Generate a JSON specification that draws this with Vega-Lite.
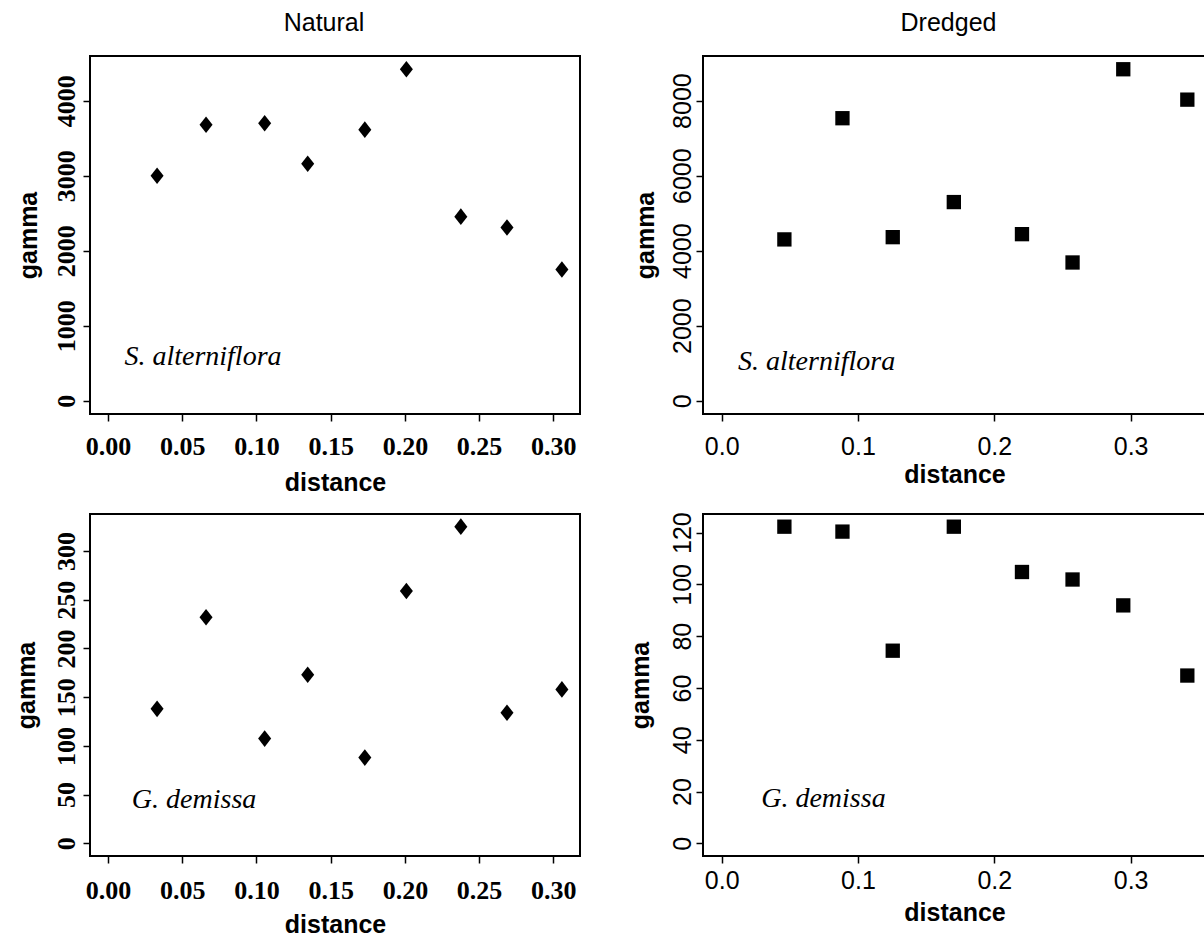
{
  "$schema": "https://vega.github.io/schema/vega-lite/v6.json",
  "background": "white",
  "padding": {"left": 13, "top": 10, "right": 0, "bottom": 0},
  "columns": 2,
  "bounds": "flush",
  "align": "each",
  "spacing": {"column": 123, "row": 100},
  "concat": [
    {
      "width": 490, "height": 358,
      "title": {"text": "Natural", "dx": -11},
      "data": {"values": [
        {"distance": 0.033, "gamma": 3000},
        {"distance": 0.066, "gamma": 3680},
        {"distance": 0.1055, "gamma": 3700},
        {"distance": 0.1345, "gamma": 3160},
        {"distance": 0.173, "gamma": 3615},
        {"distance": 0.201, "gamma": 4420},
        {"distance": 0.2377, "gamma": 2455},
        {"distance": 0.2688, "gamma": 2310},
        {"distance": 0.3058, "gamma": 1750}
      ]},
      "layer": [
        {
          "mark": {"type": "point", "shape": "M0,-1.15L0.9,0L0,1.15L-0.9,0Z", "filled": true, "size": 210, "color": "black", "opacity": 1},
          "encoding": {
            "x": {"field": "distance", "type": "quantitative", "title": "distance", "scale": {"domain": [-0.0122, 0.318], "nice": false, "zero": false},
              "axis": {"values": [0, 0.05, 0.1, 0.15, 0.2, 0.25, 0.3], "format": ".2f", "labelFont": "Liberation Serif", "labelFontWeight": "bold", "labelFontSize": 26, "labelPadding": 33, "titleY": 76}},
            "y": {"field": "gamma", "type": "quantitative", "title": "gamma", "scale": {"domain": [-177, 4597], "nice": false, "zero": false},
              "axis": {"values": [0, 1000, 2000, 3000, 4000], "format": "d", "labelFont": "Liberation Serif", "labelFontWeight": "bold", "labelFontSize": 26, "labelPadding": 9, "titleX": -54, "titleY": 179}}
          }
        },
        {
          "data": {"values": [{}]},
          "mark": {"type": "text", "text": "S. alterniflora", "font": "Liberation Serif", "fontStyle": "italic", "fontSize": 28, "align": "left", "baseline": "middle", "color": "black"},
          "encoding": {"x": {"datum": 0.011, "type": "quantitative"}, "y": {"datum": 587, "type": "quantitative"}}
        }
      ]
    },
    {
      "width": 503, "height": 358,
      "title": {"text": "Dredged", "dx": -6},
      "data": {"values": [
        {"distance": 0.046, "gamma": 4300},
        {"distance": 0.0886, "gamma": 7530},
        {"distance": 0.1255, "gamma": 4360},
        {"distance": 0.1703, "gamma": 5295},
        {"distance": 0.2203, "gamma": 4440},
        {"distance": 0.2574, "gamma": 3685},
        {"distance": 0.2946, "gamma": 8835},
        {"distance": 0.3416, "gamma": 8025}
      ]},
      "layer": [
        {
          "mark": {"type": "point", "shape": "square", "filled": true, "size": 205, "color": "black", "opacity": 1},
          "encoding": {
            "x": {"field": "distance", "type": "quantitative", "title": "distance", "scale": {"domain": [-0.0137, 0.3553], "nice": false, "zero": false},
              "axis": {"values": [0, 0.1, 0.2, 0.3], "format": ".1f", "labelFont": "Liberation Sans", "labelFontSize": 25, "labelPadding": 33, "titleY": 68}},
            "y": {"field": "gamma", "type": "quantitative", "title": "gamma", "scale": {"domain": [-353, 9188], "nice": false, "zero": false},
              "axis": {"values": [0, 2000, 4000, 6000, 8000], "format": "d", "labelFont": "Liberation Sans", "labelFontSize": 25, "labelPadding": 6, "titleX": -50, "titleY": 179}}
          }
        },
        {
          "data": {"values": [{}]},
          "mark": {"type": "text", "text": "S. alterniflora", "font": "Liberation Serif", "fontStyle": "italic", "fontSize": 28, "align": "left", "baseline": "middle", "color": "black"},
          "encoding": {"x": {"datum": 0.012, "type": "quantitative"}, "y": {"datum": 1040, "type": "quantitative"}}
        }
      ]
    },
    {
      "width": 490, "height": 342,
      "data": {"values": [
        {"distance": 0.033, "gamma": 138},
        {"distance": 0.066, "gamma": 232},
        {"distance": 0.1055, "gamma": 107.5},
        {"distance": 0.1345, "gamma": 173},
        {"distance": 0.173, "gamma": 88},
        {"distance": 0.201, "gamma": 259},
        {"distance": 0.2377, "gamma": 325},
        {"distance": 0.2688, "gamma": 134},
        {"distance": 0.3058, "gamma": 158}
      ]},
      "layer": [
        {
          "mark": {"type": "point", "shape": "M0,-1.15L0.9,0L0,1.15L-0.9,0Z", "filled": true, "size": 210, "color": "black", "opacity": 1},
          "encoding": {
            "x": {"field": "distance", "type": "quantitative", "title": "distance", "scale": {"domain": [-0.0122, 0.318], "nice": false, "zero": false},
              "axis": {"values": [0, 0.05, 0.1, 0.15, 0.2, 0.25, 0.3], "format": ".2f", "labelFont": "Liberation Serif", "labelFontWeight": "bold", "labelFontSize": 26, "labelPadding": 35, "titleY": 76}},
            "y": {"field": "gamma", "type": "quantitative", "title": "gamma", "scale": {"domain": [-13, 338], "nice": false, "zero": false},
              "axis": {"values": [0, 50, 100, 150, 200, 250, 300], "format": "d", "labelFont": "Liberation Serif", "labelFontWeight": "bold", "labelFontSize": 26, "labelPadding": 9, "titleX": -56, "titleY": 171}}
          }
        },
        {
          "data": {"values": [{}]},
          "mark": {"type": "text", "text": "G. demissa", "font": "Liberation Serif", "fontStyle": "italic", "fontSize": 28, "align": "left", "baseline": "middle", "color": "black"},
          "encoding": {"x": {"datum": 0.016, "type": "quantitative"}, "y": {"datum": 44, "type": "quantitative"}}
        }
      ]
    },
    {
      "width": 503, "height": 342,
      "data": {"values": [
        {"distance": 0.046, "gamma": 122.3},
        {"distance": 0.0886, "gamma": 120.4},
        {"distance": 0.1255, "gamma": 74.4},
        {"distance": 0.1703, "gamma": 122.3},
        {"distance": 0.2203, "gamma": 104.8},
        {"distance": 0.2574, "gamma": 101.9},
        {"distance": 0.2946, "gamma": 91.9},
        {"distance": 0.3416, "gamma": 64.8}
      ]},
      "layer": [
        {
          "mark": {"type": "point", "shape": "square", "filled": true, "size": 205, "color": "black", "opacity": 1},
          "encoding": {
            "x": {"field": "distance", "type": "quantitative", "title": "distance", "scale": {"domain": [-0.0137, 0.3553], "nice": false, "zero": false},
              "axis": {"values": [0, 0.1, 0.2, 0.3], "format": ".1f", "labelFont": "Liberation Sans", "labelFontSize": 25, "labelPadding": 25, "titleY": 64}},
            "y": {"field": "gamma", "type": "quantitative", "title": "gamma", "scale": {"domain": [-4.9, 127.2], "nice": false, "zero": false},
              "axis": {"values": [0, 20, 40, 60, 80, 100, 120], "format": "d", "labelFont": "Liberation Sans", "labelFontSize": 25, "labelPadding": 6, "titleX": -55, "titleY": 171}}
          }
        },
        {
          "data": {"values": [{}]},
          "mark": {"type": "text", "text": "G. demissa", "font": "Liberation Serif", "fontStyle": "italic", "fontSize": 28, "align": "left", "baseline": "middle", "color": "black"},
          "encoding": {"x": {"datum": 0.029, "type": "quantitative"}, "y": {"datum": 17, "type": "quantitative"}}
        }
      ]
    }
  ],
  "config": {
    "view": {"stroke": "black", "strokeWidth": 2},
    "title": {"font": "Liberation Sans", "fontSize": 25, "fontWeight": "normal", "color": "black", "anchor": "middle", "offset": 20, "baseline": "alphabetic", "frame": "group"},
    "axis": {
      "grid": false, "domain": false, "tickColor": "black", "tickSize": 7, "tickWidth": 1.5,
      "labelColor": "black", "labelFlush": false, "labelOverlap": false,
      "titleFont": "Liberation Sans", "titleFontSize": 25, "titleFontWeight": "bold", "titleColor": "black",
      "titleBaseline": "alphabetic", "titleAlign": "center"
    },
    "axisX": {"labelBaseline": "alphabetic", "labelAlign": "center", "labelAngle": 0, "titleAngle": 0},
    "axisY": {"labelAngle": -90, "labelAlign": "center", "labelBaseline": "alphabetic", "titleAngle": -90}
  }
}
